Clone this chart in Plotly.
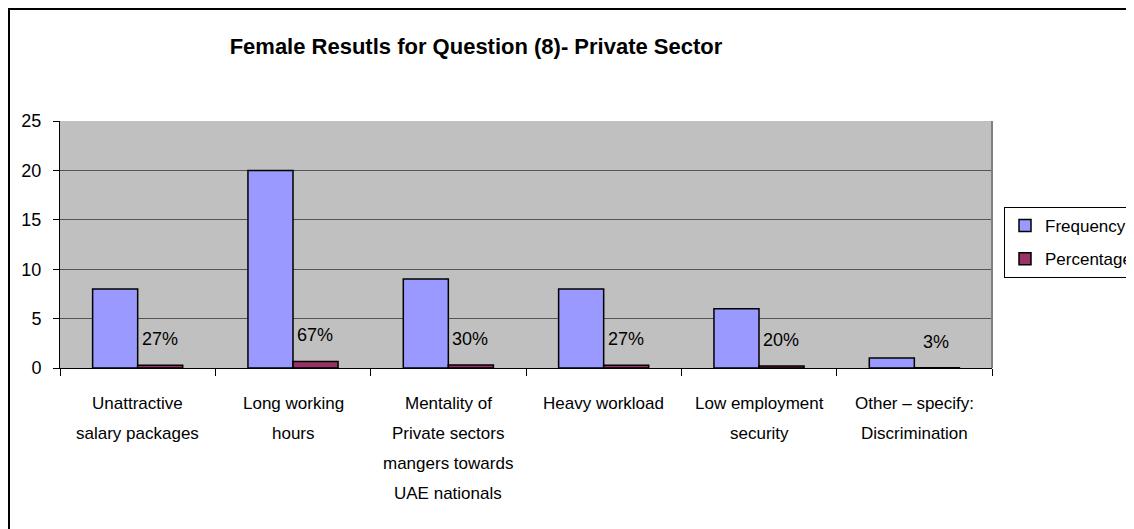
import plotly.graph_objects as go

categories = ["Unattractive<br>salary packages", "Long working<br>hours",
              "Mentality of<br>Private sectors<br>mangers towards<br>UAE nationals",
              "Heavy workload", "Low employment<br>security",
              "Other – specify:<br>Discrimination"]
frequency = [8, 20, 9, 8, 6, 1]
percentage = [0.27, 0.67, 0.30, 0.27, 0.20, 0.03]
pct_labels = ["27%", "67%", "30%", "27%", "20%", "3%"]
y_ticks = [0, 5, 10, 15, 20, 25]

font = "Liberation Sans, Arial, sans-serif"

# page body has an 8px margin; compensate so the plot area lands at x 60..992, y 121..368
L, T, PW, PH = 52, 113, 932, 247
W, H = 1134, 529

fig = go.Figure()
fig.add_trace(go.Bar(name="Frequency", x=categories, y=frequency, legendgroup="f",
                     marker=dict(color="#9999ff", line=dict(color="black", width=1.5))))
fig.add_trace(go.Bar(name="Percentage", x=categories, y=percentage, legendgroup="p",
                     marker=dict(color="#993366", line=dict(color="black", width=1.5))))

annotations = []
for c, v, lab in zip(categories, percentage, pct_labels):
    annotations.append(dict(x=c, xref="x", y=v, yref="y", text=lab, showarrow=False,
                            xshift=22, yshift=26, yanchor="middle", xanchor="center",
                            font=dict(size=18, family=font, color="black")))
for c in categories:
    for i, line in enumerate(c.split("<br>")):
        annotations.append(dict(x=c, xref="x", y=0, yref="paper", text=line,
                                showarrow=False, yshift=-(35 + 30 * i),
                                yanchor="middle", xanchor="center",
                                font=dict(size=17, family=font, color="black")))

fig.update_layout(
    width=W, height=H,
    margin=dict(l=L, r=W - L - PW, t=T, b=H - T - PH, autoexpand=False),
    paper_bgcolor="white", plot_bgcolor="#c0c0c0",
    barmode="group", bargap=0.42, bargroupgap=0,
    font=dict(family=font, size=17, color="black"),
    title=dict(text="<b>Female Resutls for Question (8)- Private Sector</b>",
               x=468 / W, xanchor="center", y=1 - 38 / H, yanchor="middle",
               font=dict(size=22, family=font)),
    showlegend=True,
    legend=dict(x=(1004 - 60) / PW, y=(368 - 207) / PH, xanchor="left", yanchor="top",
                bordercolor="black", borderwidth=1, bgcolor="white",
                font=dict(size=17, family=font), tracegroupgap=8),
    xaxis=dict(showline=True, linecolor="black", linewidth=1, ticks="outside",
               tickson="boundaries", ticklen=7, tickcolor="black",
               showgrid=False, showticklabels=False),
    yaxis=dict(range=[0, 25], tickvals=y_ticks, showline=True, linecolor="black",
               linewidth=1, ticks="outside", ticklen=6, tickcolor="black",
               ticklabelstandoff=8,
               showgrid=True, gridcolor="#555555", gridwidth=1, zeroline=False,
               tickfont=dict(size=18)),
    annotations=annotations,
    shapes=[
        # outer chart border (svg-space: left/top at ~1px, right/bottom beyond the view)
        dict(type="rect", xref="paper", yref="paper",
             x0=(1 - L) / PW, x1=(1150 - L) / PW,
             y0=-(H + 20 - T - PH) / PH, y1=(T + PH - 1) / PH,
             line=dict(color="black", width=2), layer="above"),
        dict(type="line", xref="paper", yref="paper", x0=1, x1=1, y0=0, y1=1,
             line=dict(color="#808080", width=2)),
    ],
)

fig.write_html("out.html")
